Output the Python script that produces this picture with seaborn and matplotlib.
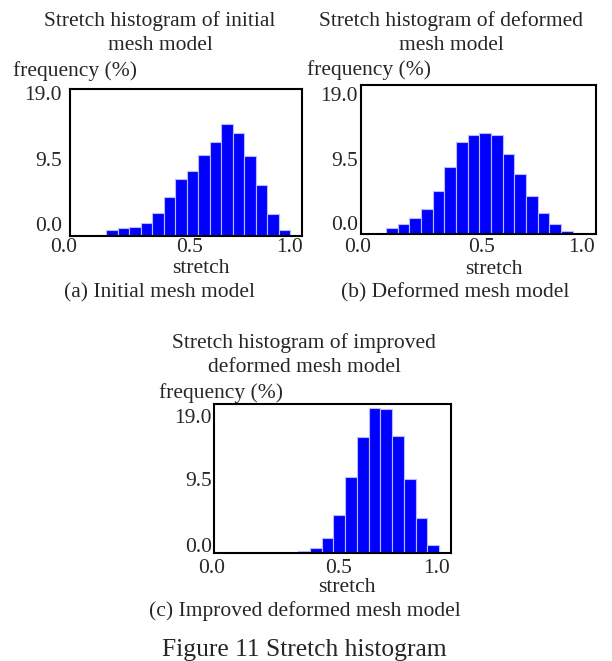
import numpy as np
import pandas as pd
import matplotlib
matplotlib.use("Agg")
import matplotlib.pyplot as plt
import matplotlib.transforms as mtransforms
import seaborn as sns

# ---------------- data ----------------
bins_a = [0.10, 0.15, 0.20, 0.25, 0.30, 0.35, 0.40, 0.45, 0.50, 0.55,
          0.60, 0.65, 0.70, 0.75, 0.80, 0.85, 0.90, 0.95]
freq_a = [0.13, 0.82, 1.03, 1.16, 1.64, 2.93, 5.04, 7.36, 8.40, 10.46,
          12.14, 14.42, 13.26, 10.33, 6.55, 2.80, 0.82, 0.13]

bins_b = [0.10, 0.15, 0.20, 0.25, 0.30, 0.35, 0.40, 0.45, 0.50, 0.55,
          0.60, 0.65, 0.70, 0.75, 0.80, 0.85]
freq_b = [0.72, 1.24, 2.05, 3.20, 5.54, 8.48, 11.67, 12.57, 12.83, 12.57,
          10.23, 7.67, 4.86, 2.73, 1.32, 0.38]

bins_c = [0.35, 0.40, 0.45, 0.50, 0.55, 0.60, 0.65, 0.70, 0.75, 0.80,
          0.85, 0.90]
freq_c = [0.30, 0.64, 1.95, 4.88, 9.75, 14.76, 18.53, 18.32, 14.89, 9.50,
          4.45, 1.02]

bin_width = 0.05
x_ticks = [0.0, 0.5, 1.0]
x_ticklabels = ["0.0", "0.5", "1.0"]
y_ticks = [0.0, 9.5, 19.0]
y_ticklabels = ["0.0", "9.5", "19.0"]

titles = ["Stretch histogram of initial\nmesh model",
          "Stretch histogram of deformed\nmesh model",
          "Stretch histogram of improved\ndeformed mesh model"]
captions = ["(a) Initial mesh model",
            "(b) Deformed mesh model",
            "(c) Improved deformed mesh model"]
fig_caption = "Figure 11 Stretch histogram"
xlabel = "stretch"
ylabel = "frequency (%)"

# ---------------- style ----------------
sns.set_style("white")
plt.rcParams["font.family"] = ["Liberation Serif", "DejaVu Serif"]
FS = 15.5

W, H = 612, 661
fig = plt.figure(figsize=(W / 100, H / 100), dpi=100)


def px_axes(l, t, r, b):
    return fig.add_axes([l / W, 1 - b / H, (r - l) / W, (b - t) / H])


panels = [
    dict(box=(70, 89, 302, 236), bins=bins_a, freq=freq_a,
         title_xy=(160, 33), cap_xy=(159, 293),
         ylab_xy=(75, 71), xlab_xy=(201, 269),
         xoff=[-8, 3, -12], yoff=[12, 3, -4], ypad=8, xpady=248),
    dict(box=(361, 85, 596, 234), bins=bins_b, freq=freq_b,
         title_xy=(451, 33), cap_xy=(455, 293),
         ylab_xy=(369, 70), xlab_xy=(494, 269),
         xoff=[-5, 2.5, -14], yoff=[11, 0, -9], ypad=3, xpady=248),
    dict(box=(214, 404, 451, 553), bins=bins_c, freq=freq_c,
         title_xy=(304, 355), cap_xy=(305, 611),
         ylab_xy=(221, 393), xlab_xy=(347, 587),
         xoff=[-4, 5, -14], yoff=[8, -1, -12], ypad=2, xpady=569),
]

for i, p in enumerate(panels):
    l, t, r, b = p["box"]
    ax = px_axes(l, t, r, b)
    df = pd.DataFrame({"stretch": np.array(p["bins"]) + bin_width / 2,
                       "freq": p["freq"]})
    edges = list(p["bins"]) + [p["bins"][-1] + bin_width]
    sns.histplot(data=df, x="stretch", weights="freq", bins=edges,
                 stat="count", color="#0000ff", alpha=1,
                 edgecolor="#b8bcff", linewidth=0.8, ax=ax)
    ax.set_xlim(-0.008, 1.0)
    ax.set_ylim(0, 19.0)
    for s in ax.spines.values():
        s.set_visible(True)
        s.set_color("black")
        s.set_linewidth(1.5)
    ax.set_xticks(x_ticks)
    ax.set_xticklabels(x_ticklabels, fontsize=FS)
    ax.set_yticks(y_ticks)
    ax.set_yticklabels(y_ticklabels, fontsize=FS)
    xpad_px = p["xpady"] - b - 10
    ax.tick_params(axis="x", length=0, pad=xpad_px * 0.72)
    ax.tick_params(axis="y", length=0, pad=p["ypad"] * 0.72)
    ax.set_xlabel("")
    ax.set_ylabel("")
    for lab, dx in zip(ax.get_xticklabels(), p["xoff"]):
        lab.set_transform(lab.get_transform() +
                          mtransforms.ScaledTranslation(dx / 100, 0, fig.dpi_scale_trans))
    for lab, dy in zip(ax.get_yticklabels(), p["yoff"]):
        lab.set_transform(lab.get_transform() +
                          mtransforms.ScaledTranslation(0, dy / 100, fig.dpi_scale_trans))

    # axis labels
    ax.set_ylabel(ylabel, fontsize=FS, rotation=0, ha="center", va="center")
    ax.yaxis.set_label_coords((p["ylab_xy"][0] - l) / (r - l),
                              (b - p["ylab_xy"][1]) / (b - t))
    ax.set_xlabel(xlabel, fontsize=FS, ha="center", va="center")
    ax.xaxis.set_label_coords((p["xlab_xy"][0] - l) / (r - l),
                              (b - p["xlab_xy"][1]) / (b - t))

    # title & caption
    fig.text(p["title_xy"][0] / W, 1 - p["title_xy"][1] / H, titles[i],
             ha="center", va="center", fontsize=FS, linespacing=1.35)
    fig.text(p["cap_xy"][0] / W, 1 - p["cap_xy"][1] / H, captions[i],
             ha="center", va="center", fontsize=FS)

fig.text(304 / W, 1 - 650 / H, fig_caption, ha="center", va="center",
         fontsize=18.4)

fig.savefig("out.png", dpi=100)
